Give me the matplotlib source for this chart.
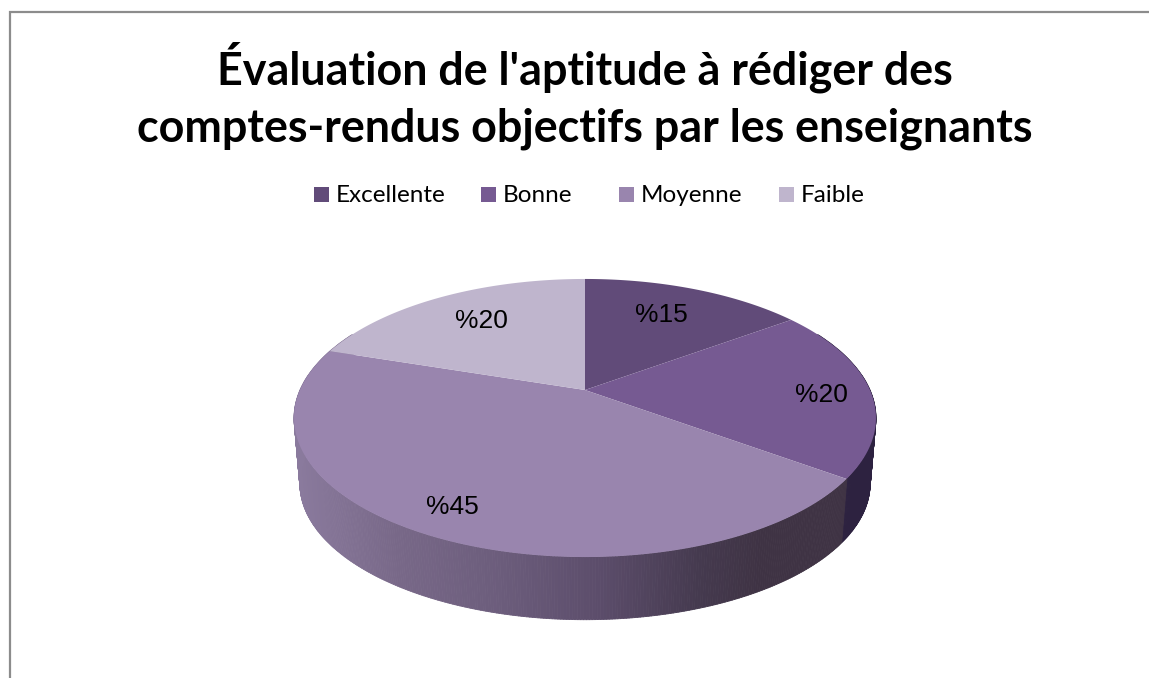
#!/usr/bin/env python3
# Perspective 3D pie of teacher ratings, drawn by projecting the slices onto a flat axes.
import numpy as np
import matplotlib
matplotlib.use('Agg')
import matplotlib.pyplot as plt
from matplotlib.collections import PolyCollection
from matplotlib.colors import to_rgb

TITLE = "Évaluation de l'aptitude à rédiger des\ncomptes-rendus objectifs par les enseignants"
CATEGORIES = ['Excellente', 'Bonne', 'Moyenne', 'Faible']
VALUES = [15, 20, 45, 20]
COLORS = ['#614B79', '#765A92', '#9985AE', '#BFB5CD']

# pixel layout of the page
W, H = 1149, 678
CX, CY = 585, 390      # where the slices meet on the top face
SX, SY = 285, 133.4    # scale of the disc
TILT = 0.2014          # perspective strength
LABEL_XY = [(661, 315), (821, 395), (452, 507), (481, 321)]
LEGEND_BOX_X = [314, 481, 619, 779]
LEGEND_TEXT_X = [336, 503, 641, 801]

# side wall shading: screen x -> colour
SIDE_X = [294, 400, 500, 600, 700, 760, 880]
SIDE_COL = ['#8B7B9E', '#786888', '#6C5D7C', '#5C4D6B', '#453A4F', '#3F3344', '#3F3344']
SIDE_DARK = '#2D2240'


def project(theta, cy=CY, scale=1.0):
    # theta runs clockwise from twelve o'clock
    x, y = np.sin(theta), np.cos(theta)
    w = 1 + TILT * y
    return CX + scale * SX * x / w, cy - scale * SY * y / w


fig = plt.figure(figsize=(W / 100, H / 100), dpi=100)
ax = fig.add_axes([0, 0, 1, 1])
ax.set_xlim(0, W)
ax.set_ylim(H, 0)
ax.axis('off')

# frame: only top and left edges fall inside the crop
ax.plot([9.5, 9.5, W], [H, 11.5, 11.5], color='#8C8C8C', lw=1.6, zorder=1,
        solid_joinstyle='miter', solid_capstyle='butt')

edges = np.concatenate([[0], np.cumsum(VALUES)]) / sum(VALUES) * 2 * np.pi

# side wall, one thin quad per angle step
t = np.linspace(np.pi * 0.35, np.pi * 1.65, 500)
tx, ty = project(t)
bx, by = project(t, cy=456, scale=0.98)
quads, cols = [], []
side_rgb = np.array([to_rgb(c) for c in SIDE_COL])
for i in range(len(t) - 1):
    quads.append([(tx[i], ty[i]), (tx[i + 1], ty[i + 1]), (bx[i + 1], by[i + 1]), (bx[i], by[i])])
    mid = (t[i] + t[i + 1]) / 2
    if mid < edges[2]:
        cols.append(to_rgb(SIDE_DARK))
    else:
        xm = (tx[i] + bx[i]) / 2
        cols.append([np.interp(xm, SIDE_X, side_rgb[:, k]) for k in range(3)])
ax.add_collection(PolyCollection(quads, facecolors=cols, edgecolors=cols, linewidths=0.6, zorder=2))

# top face
for start, end, col in zip(edges[:-1], edges[1:], COLORS):
    a = np.linspace(start, end, 200)
    px, py = project(a)
    ax.fill(np.r_[CX, px], np.r_[CY, py], color=col, lw=0, zorder=3)

for (lx, ly), val in zip(LABEL_XY, VALUES):
    ax.text(lx, ly, f'%{val}', ha='center', va='center', fontsize=19,
            family='Liberation Sans', color='black', zorder=4)

ax.text(585, 96, TITLE, ha='center', va='center', fontsize=32.3, fontweight='bold',
        family='Lato', color='black', linespacing=1.42)

for name, col, bx0, tx0 in zip(CATEGORIES, COLORS, LEGEND_BOX_X, LEGEND_TEXT_X):
    ax.fill([bx0, bx0 + 15, bx0 + 15, bx0], [187, 187, 202, 202], color=col, lw=0)
    ax.text(tx0, 195, name, ha='left', va='center', fontsize=17.5, family='Lato', color='black')

fig.savefig('out.png', dpi=100, facecolor='white')
plt.close(fig)
